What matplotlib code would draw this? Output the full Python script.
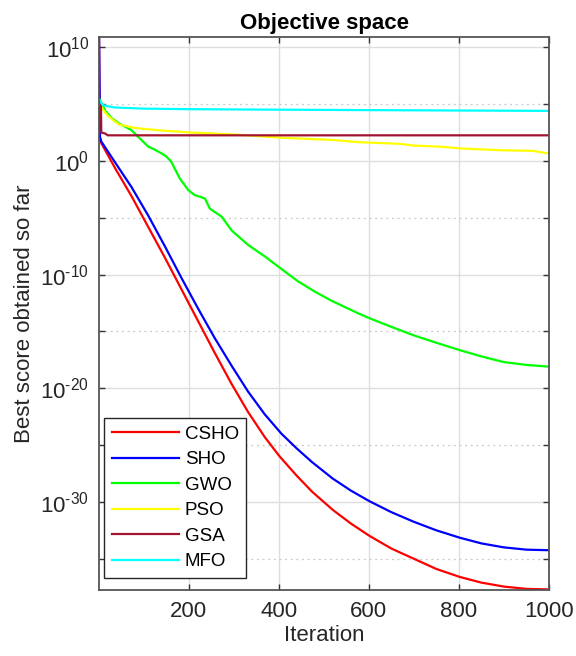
import numpy as np
import matplotlib
matplotlib.use('Agg')
import matplotlib.pyplot as plt
from matplotlib.ticker import FixedLocator, NullFormatter, FuncFormatter

plt.rcParams['font.family'] = 'Liberation Sans'
plt.rcParams['mathtext.fontset'] = 'custom'
plt.rcParams['mathtext.rm'] = 'Liberation Sans'
plt.rcParams['mathtext.default'] = 'regular'

# convergence curves, values as log10(best score) at given iterations
csho_it = [1, 3, 6, 36, 73, 110, 147, 184, 221, 258, 295, 332, 369, 402, 440, 474, 520,
           560, 602, 650, 700, 750, 802, 850, 900, 950, 1000]
csho_lg = [10.9, 2.0, 1.56, -0.6, -3.1, -5.8, -8.5, -11.3, -14.1, -16.9, -19.6, -22.1,
           -24.3, -26.0, -27.7, -29.1, -30.7, -31.9, -33.0, -34.1, -35.0, -35.9, -36.6,
           -37.1, -37.45, -37.65, -37.7]

sho_it = [1, 3, 6, 36, 73, 110, 147, 184, 221, 258, 295, 332, 369, 406, 440, 474, 520,
          560, 602, 650, 700, 750, 802, 850, 900, 950, 1000]
sho_lg = [10.9, 2.1, 1.7, -0.1, -2.3, -4.8, -7.5, -10.3, -13.0, -15.6, -18.0, -20.3,
          -22.3, -24.0, -25.3, -26.5, -27.95, -29.0, -29.95, -30.9, -31.75, -32.5, -33.15,
          -33.65, -34.0, -34.2, -34.25]

gwo_it = [1, 15, 28, 45, 64, 73, 87, 110, 124, 139, 150, 161, 180, 199, 213, 236, 247,
          273, 295, 332, 369, 399, 443, 480, 517, 576, 602, 650, 700, 750, 802, 850, 900,
          950, 1000]
gwo_lg = [5.5, 4.4, 3.8, 3.3, 2.9, 2.7, 2.15, 1.26, 1.0, 0.68, 0.4, -0.06, -1.53, -2.56,
          -3.0, -3.3, -4.2, -4.9, -6.1, -7.4, -8.4, -9.3, -10.6, -11.5, -12.3, -13.4,
          -13.85, -14.6, -15.35, -16.0, -16.65, -17.2, -17.7, -17.95, -18.1]

pso_it = [1, 10, 20, 35, 46, 80, 132, 202, 260, 313, 399, 520, 576, 669, 700, 760, 802,
          891, 965, 1000]
pso_lg = [5.1, 4.5, 4.0, 3.5, 3.2, 2.9, 2.7, 2.5, 2.4, 2.3, 2.05, 1.84, 1.65, 1.5, 1.35,
          1.25, 1.1, 0.94, 0.88, 0.64]

gsa_it = [1, 5, 6, 15, 20, 1000]
gsa_lg = [5.3, 5.0, 2.5, 2.4, 2.25, 2.25]

mfo_it = [1, 9, 35, 100, 200, 424, 700, 1000]
mfo_lg = [5.4, 4.9, 4.7, 4.6, 4.55, 4.5, 4.45, 4.4]

names = ['CSHO', 'SHO', 'GWO', 'PSO', 'GSA', 'MFO']
colors = ['#ff0000', '#0000ff', '#00ff00', '#ffff00', '#a2142f', '#00ffff']
series = [(csho_it, csho_lg), (sho_it, sho_lg), (gwo_it, gwo_lg),
          (pso_it, pso_lg), (gsa_it, gsa_lg), (mfo_it, mfo_lg)]


def pow10_label(v, pos):
    e = int(round(np.log10(v)))
    return r'$10^{%s}$' % str(e).replace('-', '\u2010')


fig = plt.figure(figsize=(5.76, 6.56), dpi=100)
ax = fig.add_axes([0.172, 0.1006, 0.781, 0.843])

for (it, lg), name, c in zip(series, names, colors):
    ax.semilogy(it, 10.0 ** np.array(lg), color=c, lw=1.6, label=name)

ax.set_xlim(1, 1000)
ax.set_ylim(10 ** -37.75, 10 ** 10.9)
ax.set_xticks([200, 400, 600, 800, 1000])
ax.yaxis.set_major_locator(FixedLocator([1e10, 1e0, 1e-10, 1e-20, 1e-30]))
ax.yaxis.set_major_formatter(FuncFormatter(pow10_label))
ax.yaxis.set_minor_locator(FixedLocator([1e5, 1e-5, 1e-15, 1e-25, 1e-35]))
ax.yaxis.set_minor_formatter(NullFormatter())

ax.grid(True, which='major', color='#dedede', lw=1.0)
ax.grid(True, which='minor', axis='y', color='#c8c8c8', lw=0.9, ls=(0, (1.5, 3)))
ax.set_axisbelow(True)

for s in ax.spines.values():
    s.set_color('#555555')
    s.set_linewidth(1.3)
ax.tick_params(which='both', direction='in', top=True, right=True, length=4.5,
               width=1.0, color='#333333', labelsize=16, labelcolor='#262626')
ax.tick_params(axis='y', which='major', pad=7)
ax.tick_params(axis='x', which='major', pad=8)

ax.set_title('Objective space', fontsize=16, fontweight='bold', pad=6)
ax.set_xlabel('Iteration', fontsize=16, color='#262626', labelpad=2)
ax.set_ylabel('Best score obtained so far', fontsize=16, color='#262626', labelpad=4)

leg = ax.legend(loc='lower left', bbox_to_anchor=(0.011, 0.022), borderaxespad=0,
                fontsize=13.5, handlelength=3.6, handletextpad=0.3, labelspacing=0.45,
                borderpad=0.4, fancybox=False, framealpha=1)
leg.get_frame().set_edgecolor('#262626')
leg.get_frame().set_linewidth(1.0)

fig.savefig('out.png', dpi=100)
